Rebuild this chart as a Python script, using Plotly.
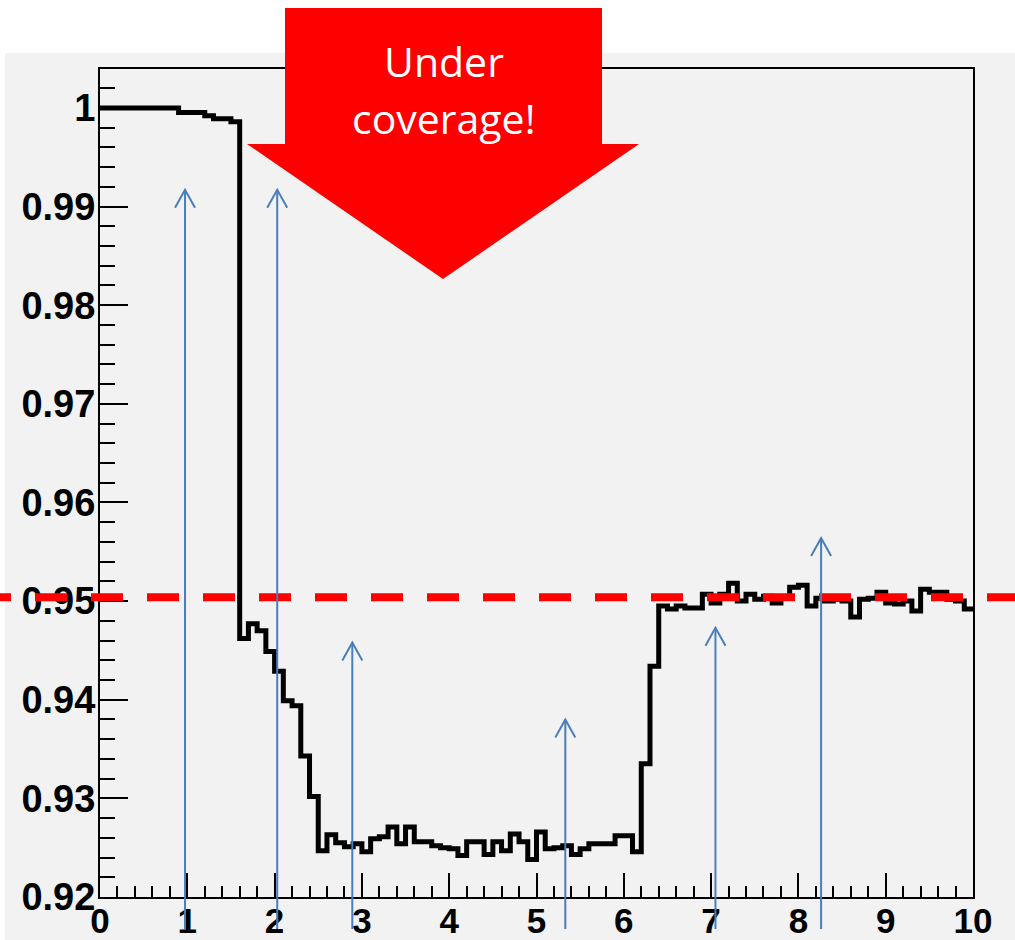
import numpy as np
import plotly.graph_objects as go

# Coverage histogram: 100 bins of width 0.1 on [0, 10]
bin_edges = np.round(np.arange(0, 10.0001, 0.1), 2)
coverage = [
    1.0, 1.0, 1.0, 1.0, 1.0, 1.0, 1.0, 1.0, 1.0,
    0.99955, 0.99955, 0.99955, 0.99920, 0.99890, 0.99890, 0.99860,
    0.9462, 0.9477, 0.9470, 0.9449, 0.9429, 0.9399, 0.9394, 0.9343, 0.9302,
    0.9247, 0.9263, 0.9255, 0.9251, 0.9254,
    0.9246, 0.9259, 0.9261, 0.9271, 0.9254, 0.9271, 0.9256, 0.9256, 0.9252, 0.9250,
    0.9249, 0.9242, 0.9256, 0.9256, 0.9243, 0.9256, 0.9247, 0.9264, 0.9256, 0.9238,
    0.9266, 0.9249, 0.9250, 0.9252, 0.9243, 0.9249, 0.9254, 0.9254, 0.9254, 0.9262,
    0.9262, 0.9246, 0.9335, 0.9434, 0.9495, 0.9492, 0.9495, 0.9493, 0.9493, 0.9507,
    0.9498, 0.9507, 0.9518, 0.9500, 0.9507, 0.9502, 0.9505, 0.9498, 0.9503, 0.9514,
    0.9516, 0.9495, 0.9503, 0.9500, 0.9502, 0.9500, 0.9484, 0.9502, 0.9503, 0.9509,
    0.9498, 0.9497, 0.9500, 0.9490, 0.9512, 0.9509, 0.9509, 0.9502, 0.9500, 0.9492,
]
nominal_level = 0.9504

# Blue marker arrows: x position, tip value, tail value
arrow_x = [0.974, 2.03, 2.89, 5.33, 7.05, 8.26]
arrow_tip = [0.9917, 0.9917, 0.9458, 0.9380, 0.9473, 0.9564]
arrow_tail = 0.9166

y_ticks = [0.92, 0.93, 0.94, 0.95, 0.96, 0.97, 0.98, 0.99, 1.0]
y_labels = ["0.92", "0.93", "0.94", "0.95", "0.96", "0.97", "0.98", "0.99", "1"]
x_ticks = list(range(0, 11))
x_labels = [str(v) for v in x_ticks]

W, H = 1015, 940
ML, MR, MT, MB = 100, 42, 69, 43
PW, PH = W - ML - MR, H - MT - MB
Y_RANGE = [0.92, 1.00395]


def px_to_paper(px, py):
    return (px - ML) / PW, (H - MB - py) / PH


fig = go.Figure()

fig.add_trace(go.Scatter(
    x=bin_edges,
    y=coverage + [coverage[-1]],
    mode="lines",
    line=dict(color="black", width=5, shape="hv"),
    hoverinfo="skip",
    showlegend=False,
))

shapes = []

# grey canvas area
gx0, gy0 = px_to_paper(5, 53)
gx1, gy1 = px_to_paper(W + 5, H + 5)
shapes.append(dict(type="rect", xref="paper", yref="paper",
                   x0=gx0, y0=gy0, x1=gx1, y1=gy1,
                   fillcolor="#f2f2f2", line=dict(width=0), layer="below"))

# dashed nominal level line across the whole width
lx0, _ = px_to_paper(-21, 0)
lx1, _ = px_to_paper(W + 20, 0)
shapes.append(dict(type="line", xref="paper", yref="y",
                   x0=lx0, x1=lx1, y0=nominal_level, y1=nominal_level,
                   line=dict(color="#ff0000", width=8, dash="32px,24px"),
                   layer="above"))

# big red "under coverage" arrow
pts = [(285, 8), (602, 8), (602, 144), (639, 144), (443, 279),
       (247, 144), (285, 144)]
path = ""
for i, (px, py) in enumerate(pts):
    u, v = px_to_paper(px, py)
    path += ("M" if i == 0 else "L") + f"{u:.5f},{v:.5f} "
path += "Z"
shapes.append(dict(type="path", xref="paper", yref="paper", path=path,
                   fillcolor="#ff0000", line=dict(width=0), layer="above"))

# open arrow heads
for ax_, tip in zip(arrow_x, arrow_tip):
    shapes.append(dict(type="path", xref="x", yref="y",
                       xsizemode="pixel", ysizemode="pixel",
                       xanchor=ax_, yanchor=tip,
                       path="M-10,-18 L0,0 L10,-18",
                       line=dict(color="#4a7ebb", width=2), layer="above"))

annotations = []
for ax_, tip in zip(arrow_x, arrow_tip):
    annotations.append(dict(x=ax_, y=tip, xref="x", yref="y",
                            ax=ax_, ay=arrow_tail, axref="x", ayref="y",
                            text="", showarrow=True, arrowhead=0,
                            arrowwidth=2, arrowcolor="#4a7ebb", standoff=0))

for txt, (px, py) in [("Under", (444, 61)), ("coverage!", (443, 118))]:
    u, v = px_to_paper(px, py)
    annotations.append(dict(x=u, y=v, xref="paper", yref="paper",
                            text=txt, showarrow=False,
                            xanchor="center", yanchor="middle",
                            font=dict(family="Open Sans", size=41,
                                      color="white")))

y_font = dict(family="Liberation Sans", size=38, color="black",
              weight="bold")
x_font = dict(family="Liberation Sans", size=35, color="black",
              weight="bold")

fig.update_layout(
    width=W, height=H,
    margin=dict(l=ML, r=MR, t=MT, b=MB, pad=0),
    paper_bgcolor="white",
    plot_bgcolor="#f2f2f2",
    shapes=shapes,
    annotations=annotations,
    xaxis=dict(
        range=[0, 10], tickmode="array", tickvals=x_ticks, ticktext=x_labels,
        ticks="inside", ticklen=24, tickwidth=2, tickcolor="black",
        minor=dict(dtick=0.2, ticks="inside", ticklen=11, tickwidth=2,
                   tickcolor="black"),
        showline=True, linecolor="black", linewidth=2, mirror=True,
        showgrid=False, zeroline=False, tickfont=x_font,
        automargin=False, ticklabelstandoff=-8,
    ),
    yaxis=dict(
        range=Y_RANGE, tickmode="array", tickvals=y_ticks, ticktext=y_labels,
        ticks="inside", ticklen=28, tickwidth=2, tickcolor="black",
        minor=dict(dtick=0.002, tick0=0.92, ticks="inside", ticklen=15,
                   tickwidth=2, tickcolor="black"),
        showline=True, linecolor="black", linewidth=2, mirror=True,
        showgrid=False, zeroline=False, tickfont=y_font,
        automargin=False, ticklabelstandoff=-5,
    ),
)

fig.write_html("out.html")
